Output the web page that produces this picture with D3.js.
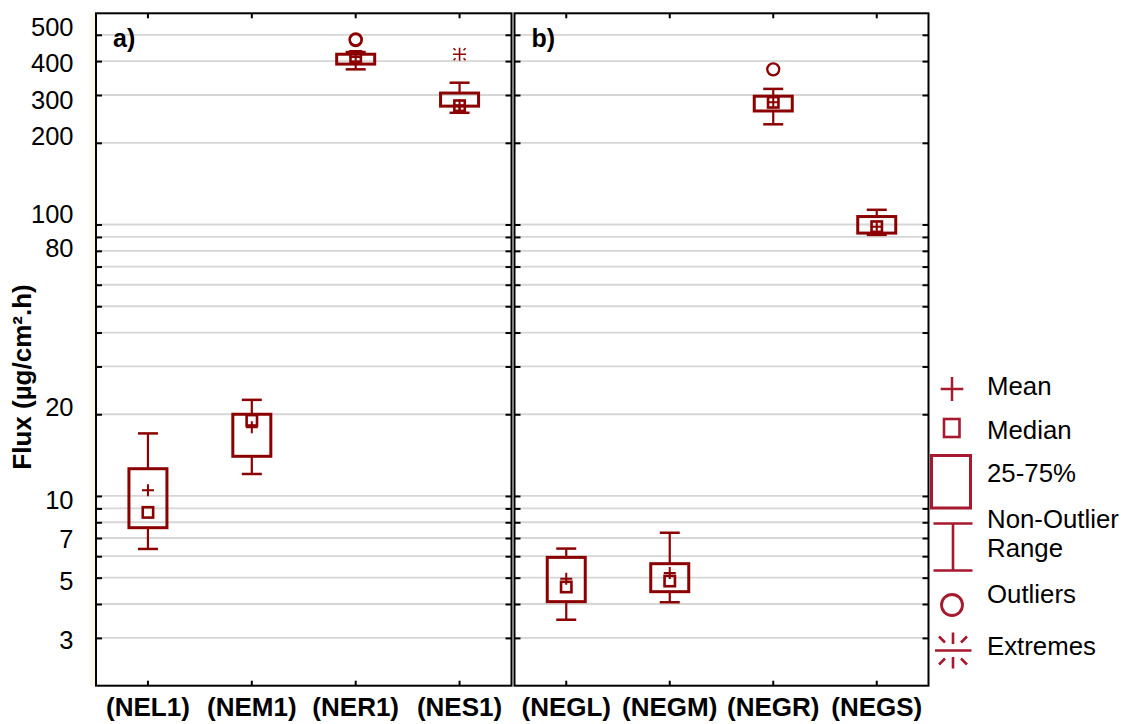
<!DOCTYPE html>
<html><head><meta charset="utf-8">
<script src="https://cdn.jsdelivr.net/npm/d3@7"></script>
<style>
body{margin:0;background:#fff}
svg{display:block}
text{font-family:"Liberation Sans",Arial,Helvetica,sans-serif}
</style>
</head><body>
<svg id="chart" width="1122" height="724"></svg>
<script>
// ---------- DATA ----------
const categoriesA = ["(NEL1)", "(NEM1)", "(NER1)", "(NES1)"];
const categoriesB = ["(NEGL)", "(NEGM)", "(NEGR)", "(NEGS)"];

const whiskerLowA  = [6.38, 12.05, 373, 258];
const q1A          = [7.64, 14.0, 390, 273];
const medianA      = [8.70, 19.0, 416, 274];
const q3A          = [12.6, 20.0, 424, 305];
const whiskerHighA = [17.0, 22.6, 432, 333];
const meanA        = [10.49, 17.9, 414, 275];
const outliersA    = [[], [], [478, 481], []];
const extremesA    = [[], [], [], [424]];

const whiskerLowB  = [3.50, 4.06, 234, 91.6];
const q1B          = [4.08, 4.44, 262, 93.0];
const medianB      = [4.62, 4.86, 282, 98.2];
const q3B          = [5.94, 5.63, 297, 107];
const whiskerHighB = [6.40, 7.32, 316, 113.3];
const meanB        = [4.95, 5.20, 282, 98.2];
const outliersB    = [[], [], [373], []];
const extremesB    = [[], [], [], []];

const gridValues = [3,4,5,6,7,8,9,10,20,30,40,50,60,70,80,90,100,200,300,400,500];
const tickLabels = [500,400,300,200,100,80,20,10,7,5,3];
const yDomain = [2, 600];
const panelLabels = ["a)", "b)"];
const yTitle = "Flux (µg/cm².h)";
const legendLabels = ["Mean", "Median", "25-75%", "Non-Outlier", "Range", "Outliers", "Extremes"];

// ---------- STYLE ----------
const RED = "#8b0000";
const LEG = "#a6192e";
const GRID = "#d6d6d6";

const svg = d3.select("#chart");
const yTop = 13.3, yBottom = 685.7;
const y = d3.scaleLog().domain(yDomain).range([yBottom, yTop]);

// label nudges (visual offsets of tick texts in the original)
const labelNudge = {500:-8, 400:1.5, 300:4, 200:-7, 100:-11.5, 80:-3.7, 20:-8, 10:3.7, 7:0, 5:3, 3:2};

// cream strip left of plot
svg.append("rect").attr("x", 90).attr("y", yTop).attr("width", 6).attr("height", yBottom - yTop).attr("fill", "#fcf8e9");

function buildRows(cats, lo, q1, med, q3, hi, mean, outl, ext) {
  return cats.map((c, i) => ({cat: c, lo: lo[i], q1: q1[i], med: med[i], q3: q3[i], hi: hi[i], mean: mean[i], outl: outl[i], ext: ext[i]}));
}

const panels = [
  {cats: categoriesA, x0: 96, x1: 511.5, label: panelLabels[0],
   rows: buildRows(categoriesA, whiskerLowA, q1A, medianA, q3A, whiskerHighA, meanA, outliersA, extremesA)},
  {cats: categoriesB, x0: 514.5, x1: 928.5, label: panelLabels[1],
   rows: buildRows(categoriesB, whiskerLowB, q1B, medianB, q3B, whiskerHighB, meanB, outliersB, extremesB)}
];

panels.forEach((p, pi) => {
  const x = d3.scaleBand().domain(p.cats).range([p.x0, p.x1]).padding(0);
  const cx = d => x(d) + x.bandwidth() / 2;
  const g = svg.append("g");

  // grid
  g.selectAll("line.grid").data(gridValues).join("line")
    .attr("x1", p.x0).attr("x2", p.x1)
    .attr("y1", d => y(d)).attr("y2", d => y(d))
    .attr("stroke", GRID).attr("stroke-width", 1.8);

  // inward ticks
  const left = g.append("g").attr("transform", `translate(${p.x0},0)`)
    .call(d3.axisRight(y).tickValues(gridValues).tickSize(6).tickFormat(""));
  const right = g.append("g").attr("transform", `translate(${p.x1},0)`)
    .call(d3.axisLeft(y).tickValues(gridValues).tickSize(6).tickFormat(""));
  const topAx = g.append("g").attr("transform", `translate(0,${yTop})`)
    .call(d3.axisBottom(x).tickSize(5).tickFormat(""));
  const botAx = g.append("g").attr("transform", `translate(0,${yBottom})`)
    .call(d3.axisTop(x).tickSize(5).tickFormat(""));
  [left, right, topAx, botAx].forEach(a => {
    a.select(".domain").remove();
    a.selectAll(".tick line").attr("stroke", "#000").attr("stroke-width", 2);
  });

  // frame
  g.append("rect").attr("x", p.x0).attr("y", yTop).attr("width", p.x1 - p.x0).attr("height", yBottom - yTop)
    .attr("fill", "none").attr("stroke", "#000").attr("stroke-width", 2);

  // x labels
  const xl = g.append("g").attr("transform", `translate(0,${yBottom})`)
    .call(d3.axisBottom(x).tickSize(0).tickPadding(12));
  xl.select(".domain").remove();
  xl.selectAll("text").attr("font-size", 26).attr("font-weight", "bold").attr("fill", "#000")
    .attr("font-family", "Liberation Sans, Arial, sans-serif").attr("dy", "0.7em");

  // panel label
  g.append("text").attr("x", p.x0 + 17).attr("y", 47).text(p.label)
    .attr("font-size", 25).attr("font-weight", "bold");

  // boxes
  const b = g.selectAll("g.box").data(p.rows).join("g").attr("class", "box");
  b.append("line").attr("x1", d => cx(d.cat)).attr("x2", d => cx(d.cat))
    .attr("y1", d => y(d.hi)).attr("y2", d => y(d.q3)).attr("stroke", RED).attr("stroke-width", 2.2);
  b.append("line").attr("x1", d => cx(d.cat)).attr("x2", d => cx(d.cat))
    .attr("y1", d => y(d.q1)).attr("y2", d => y(d.lo)).attr("stroke", RED).attr("stroke-width", 2.2);
  b.append("line").attr("x1", d => cx(d.cat) - 10).attr("x2", d => cx(d.cat) + 10)
    .attr("y1", d => y(d.hi)).attr("y2", d => y(d.hi)).attr("stroke", RED).attr("stroke-width", 2.5);
  b.append("line").attr("x1", d => cx(d.cat) - 10).attr("x2", d => cx(d.cat) + 10)
    .attr("y1", d => y(d.lo)).attr("y2", d => y(d.lo)).attr("stroke", RED).attr("stroke-width", 2.5);
  b.append("rect").attr("x", d => cx(d.cat) - 19).attr("width", 38)
    .attr("y", d => y(d.q3)).attr("height", d => y(d.q1) - y(d.q3))
    .attr("fill", "none").attr("stroke", RED).attr("stroke-width", 3);
  b.append("rect").attr("x", d => cx(d.cat) - 5.2).attr("width", 10.4)
    .attr("y", d => y(d.med) - 5.2).attr("height", 10.4)
    .attr("fill", "none").attr("stroke", RED).attr("stroke-width", 2.6);
  b.append("path").attr("d", d => {
      const X = cx(d.cat), Y = y(d.mean);
      return `M${X - 6},${Y}H${X + 6}M${X},${Y - 6}V${Y + 6}`;
    }).attr("stroke", RED).attr("stroke-width", 2).attr("fill", "none");
  b.selectAll("circle").data(d => d.outl.map(v => ({cat: d.cat, v}))).join("circle")
    .attr("cx", d => cx(d.cat)).attr("cy", d => y(d.v)).attr("r", 6)
    .attr("fill", "none").attr("stroke", RED).attr("stroke-width", 2.3);
  b.selectAll("path.ext").data(d => d.ext.map(v => ({cat: d.cat, v}))).join("path").attr("class", "ext")
    .attr("d", d => {
      const X = cx(d.cat), Y = y(d.v);
      return `M${X - 6.5},${Y}H${X + 6.5}M${X},${Y - 6.5}V${Y + 6.5}` +
        `M${X - 6},${Y - 6}L${X - 4},${Y - 4}M${X + 6},${Y - 6}L${X + 4},${Y - 4}` +
        `M${X - 6},${Y + 6}L${X - 4},${Y + 4}M${X + 6},${Y + 6}L${X + 4},${Y + 4}`;
    }).attr("stroke", RED).attr("stroke-width", 1.6).attr("fill", "none");
});

// y tick labels
const yl = svg.append("g").attr("transform", "translate(73.5,0)")
  .call(d3.axisLeft(y).tickValues(tickLabels).tickSize(0).tickPadding(0).tickFormat(d3.format("d")));
yl.select(".domain").remove();
yl.selectAll("text").attr("font-size", 25.5).attr("fill", "#000")
  .attr("font-family", "Liberation Sans, Arial, sans-serif")
  .attr("dy", d => (labelNudge[d] || 0) + 9);

// y title
svg.append("text").attr("transform", "translate(31,377) rotate(-90)")
  .attr("text-anchor", "middle").attr("font-size", 26).attr("font-weight", "bold").text(yTitle);

// ---------- LEGEND ----------
const lg = svg.append("g");
lg.append("path").attr("d", "M940.7,389H963.3M952,377V401").attr("stroke", LEG).attr("stroke-width", 2.5).attr("fill", "none");
lg.append("rect").attr("x", 944).attr("y", 419).attr("width", 15.5).attr("height", 18)
  .attr("fill", "none").attr("stroke", LEG).attr("stroke-width", 2.6);
lg.append("rect").attr("x", 931.5).attr("y", 455.5).attr("width", 39).attr("height", 52.5)
  .attr("fill", "none").attr("stroke", LEG).attr("stroke-width", 3);
lg.append("path").attr("d", "M933.5,523.5H972.5M953,523.5V570.5M933.5,570.5H972.5")
  .attr("stroke", LEG).attr("stroke-width", 2.6).attr("fill", "none");
lg.append("circle").attr("cx", 952).attr("cy", 605).attr("r", 10.5)
  .attr("fill", "none").attr("stroke", LEG).attr("stroke-width", 2.8);
lg.append("path").attr("d",
  "M935,650.5H971.5M953,632.5V644M953,657V668.5" +
  "M939,636.5L945,642.5M967,636.5L961,642.5M939,664.5L945,658.5M967,664.5L961,658.5")
  .attr("stroke", LEG).attr("stroke-width", 2.6).attr("fill", "none");

const lt = lg.append("g").attr("font-size", 25.8).attr("fill", "#000");
lt.append("text").attr("x", 987).attr("y", 395).text(legendLabels[0]);
lt.append("text").attr("x", 987).attr("y", 439).text(legendLabels[1]);
lt.append("text").attr("x", 987).attr("y", 482).text(legendLabels[2]);
lt.append("text").attr("x", 987).attr("y", 528).text(legendLabels[3]);
lt.append("text").attr("x", 987).attr("y", 557).text(legendLabels[4]);
lt.append("text").attr("x", 987).attr("y", 603).text(legendLabels[5]);
lt.append("text").attr("x", 987).attr("y", 655).text(legendLabels[6]);
</script>
</body></html>
